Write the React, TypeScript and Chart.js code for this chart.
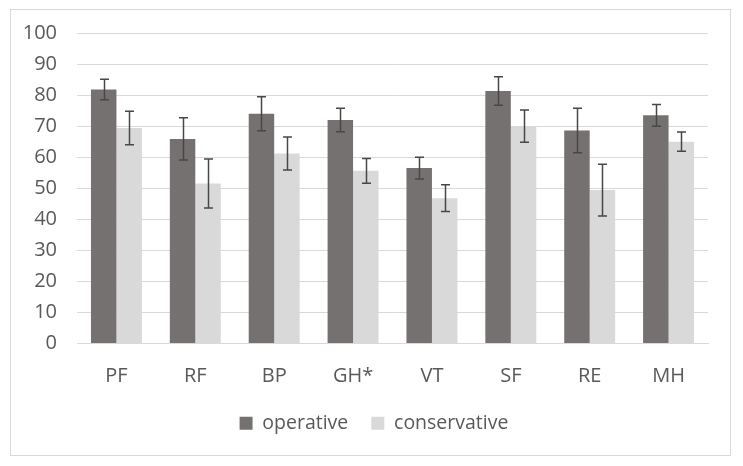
import React, { useEffect, useRef } from "react";
import { Chart, registerables } from "chart.js";

Chart.register(...registerables);

const categories = ["PF", "RF", "BP", "GH*", "VT", "SF", "RE", "MH"];
const operative = [81.8, 65.9, 74.0, 72.0, 56.5, 81.3, 68.6, 73.5];
const operativeErr = [3.3, 6.8, 5.5, 3.8, 3.5, 4.6, 7.2, 3.5];
const conservative = [69.4, 51.5, 61.2, 55.6, 46.8, 70.0, 49.4, 65.0];
const conservativeErr = [5.4, 7.9, 5.3, 4.0, 4.3, 5.2, 8.3, 3.1];
const yTicks = [0, 10, 20, 30, 40, 50, 60, 70, 80, 90, 100];

const errors = [operativeErr, conservativeErr];

const errorBarPlugin = {
  id: "errorBars",
  afterDatasetsDraw(chart: any) {
    const ctx = chart.ctx;
    const yScale = chart.scales.y;
    ctx.save();
    ctx.strokeStyle = "#474747";
    ctx.lineWidth = 1.5;
    chart.data.datasets.forEach((ds: any, di: number) => {
      const meta = chart.getDatasetMeta(di);
      meta.data.forEach((bar: any, i: number) => {
        const v = ds.data[i];
        const e = errors[di][i];
        const x = Math.round(bar.x) + 0.5;
        const yTop = yScale.getPixelForValue(v + e);
        const yBot = yScale.getPixelForValue(v - e);
        const cap = 4.5;
        ctx.beginPath();
        ctx.moveTo(x, yTop);
        ctx.lineTo(x, yBot);
        ctx.moveTo(x - cap, yTop);
        ctx.lineTo(x + cap, yTop);
        ctx.moveTo(x - cap, yBot);
        ctx.lineTo(x + cap, yBot);
        ctx.stroke();
      });
    });
    ctx.restore();
  },
};

const legendShiftPlugin = {
  id: "legendShift",
  afterLayout(chart: any) {
    if (chart.legend) {
      chart.legend.left += 20;
      chart.legend.right += 20;
    }
  },
};

export default function App() {
  const ref = useRef<HTMLCanvasElement>(null);
  useEffect(() => {
    if (!ref.current) return;
    const font = { family: "'Open Sans', sans-serif", size: 20 };
    const legendFont = { family: "'Open Sans', sans-serif", size: 19.5 };
    const chart = new Chart(ref.current, {
      type: "bar",
      data: {
        labels: categories,
        datasets: [
          {
            label: "operative",
            data: operative,
            backgroundColor: "#767171",
            categoryPercentage: 0.646,
            barPercentage: 1,
          },
          {
            label: "conservative",
            data: conservative,
            backgroundColor: "#D9D9D9",
            categoryPercentage: 0.646,
            barPercentage: 1,
          },
        ],
      },
      options: {
        responsive: false,
        animation: false,
        devicePixelRatio: 1,
        layout: { padding: { top: 33, right: 35, left: 0, bottom: 23 } },
        plugins: {
          legend: {
            position: "bottom",
            labels: {
              font: legendFont,
              color: "#595959",
              boxWidth: 13,
              boxHeight: 13,
              padding: 23,
            },
          },
          tooltip: { enabled: false },
        },
        scales: {
          x: {
            grid: { display: false },
            border: { color: "#D9D9D9", width: 1 },
            ticks: { font, color: "#595959", padding: 13 },
            afterFit(scale: any) {
              scale.height = 47;
            },
          },
          y: {
            min: 0,
            max: 100,
            afterBuildTicks(scale: any) {
              scale.ticks = yTicks.map((v) => ({ value: v }));
            },
            grid: { color: "#D9D9D9", drawTicks: false, lineWidth: 1 },
            border: { display: false },
            ticks: { font, color: "#595959", padding: 20 },
            afterFit(scale: any) {
              scale.width = 77;
            },
          },
        },
      },
      plugins: [errorBarPlugin, legendShiftPlugin],
    });
    return () => chart.destroy();
  }, []);
  return (
    <div style={{ position: "absolute", left: 0, top: 0, width: 743, height: 466, background: "#fff" }}>
      <div
        style={{
          position: "absolute",
          left: 10,
          top: 9,
          width: 721,
          height: 447,
          border: "1px solid #D9D9D9",
          boxSizing: "border-box",
        }}
      />
      <canvas ref={ref} width={743} height={466} style={{ position: "absolute", left: 0, top: 0 }} />
    </div>
  );
}
